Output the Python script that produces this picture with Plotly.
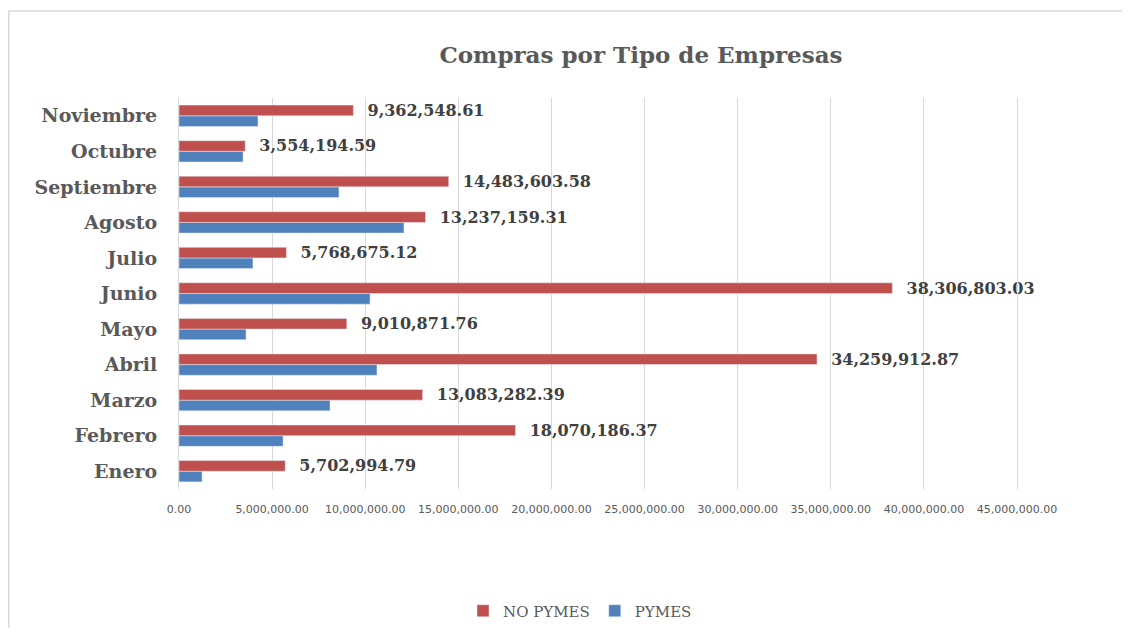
import plotly.graph_objects as go

meses = ["Enero", "Febrero", "Marzo", "Abril", "Mayo", "Junio",
         "Julio", "Agosto", "Septiembre", "Octubre", "Noviembre"]
no_pymes = [5702994.79, 18070186.37, 13083282.39, 34259912.87, 9010871.76,
            38306803.03, 5768675.12, 13237159.31, 14483603.58, 3554194.59,
            9362548.61]
pymes = [1240000, 5590000, 8110000, 10630000, 3600000, 10260000,
         3970000, 12080000, 8590000, 3440000, 4240000]
x_ticks = [0, 5e6, 10e6, 15e6, 20e6, 25e6, 30e6, 35e6, 40e6, 45e6]

serif = "DejaVu Serif, serif"
gris = "#595959"

# page body adds an 8px margin, so the figure is drawn 8px in from the corner
W, H = 1114, 620
L, R, T, B = 171, 105, 90, 139
pw, ph = W - L - R, H - T - B

fig = go.Figure()
fig.add_trace(go.Bar(
    y=meses, x=pymes, name="PYMES", orientation="h",
    marker_color="#4F81BD", legendrank=2,
))
fig.add_trace(go.Bar(
    y=meses, x=no_pymes, name="NO PYMES", orientation="h",
    marker_color="#C0504D", legendrank=1,
    text=["  " + f"{v:,.2f}" for v in no_pymes],
    textposition="outside", constraintext="none", cliponaxis=False,
    textfont=dict(family=serif, size=16, color="#404040", weight="bold"),
))

fig.update_layout(
    width=W, height=H,
    barmode="group", bargap=0.40, bargroupgap=0,
    plot_bgcolor="white", paper_bgcolor="white",
    margin=dict(l=L, r=R, t=T, b=B, autoexpand=False),
    title=dict(text="<b>Compras por Tipo de Empresas</b>",
               x=(641 - 8) / W, xanchor="center",
               y=1 - (55 - 8) / H, yanchor="middle",
               font=dict(family=serif, size=23, color=gris)),
    legend=dict(orientation="h", x=(580 - 8 - L) / pw, xanchor="center",
                y=-(603 - T - ph) / ph, yanchor="middle",
                font=dict(family=serif, size=15, color=gris),
                itemwidth=30, tracegroupgap=0),
    xaxis=dict(range=[0, 45e6], tickvals=x_ticks, tickformat=",.2f",
               showgrid=True, gridcolor="#d9d9d9", gridwidth=1,
               zeroline=False, showline=False,
               tickfont=dict(family="DejaVu Sans", size=11, color=gris),
               ticks="", ticklabelstandoff=12),
    yaxis=dict(showline=True, mirror=True, linecolor="#d9d9d9", linewidth=1,
               ticks="", ticklabelstandoff=17,
               tickfont=dict(family=serif, size=19, color=gris, weight="bold")),
    shapes=[
        dict(type="line", xref="paper", yref="paper",
             x0=-L / pw, x1=1.2, y0=1 + (T - 3) / ph, y1=1 + (T - 3) / ph,
             line=dict(color="#d9d9d9", width=1.5)),
        dict(type="line", xref="paper", yref="paper",
             x0=-L / pw, x1=-L / pw, y0=1 + (T - 3) / ph, y1=-0.5,
             line=dict(color="#d9d9d9", width=3)),
    ],
)

fig.write_html("out.html")
